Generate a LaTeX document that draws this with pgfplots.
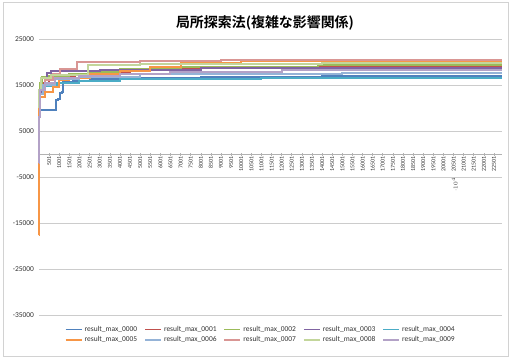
\documentclass[border=0pt]{standalone}
\usepackage{fontspec}
\setmainfont{Carlito}
\newfontfamily\cjk{Noto Sans CJK JP}[BoldFont={Noto Sans CJK JP Bold}]
\usepackage{pgfplots}
\pgfplotsset{compat=1.18}
\definecolor{s0}{HTML}{4F81BD}
\definecolor{s1}{HTML}{C0504D}
\definecolor{s2}{HTML}{9BBB59}
\definecolor{s3}{HTML}{8064A2}
\definecolor{s4}{HTML}{4BACC6}
\definecolor{s5}{HTML}{F79646}
\definecolor{s6}{HTML}{95B3D7}
\definecolor{s7}{HTML}{D99694}
\definecolor{s8}{HTML}{C3D69B}
\definecolor{s9}{HTML}{B3A2C7}
\begin{document}
\begin{tikzpicture}[x=1bp,y=1bp]
\draw[gray!35,line width=1bp] (3,6) rectangle (508,359);
\node[font=\cjk\bfseries\fontsize{14}{16}\selectfont] at (265,339) {局所探索法(複雑な影響関係)};
\begin{axis}[
  at={(39bp,47bp)}, anchor=south west,
  scale only axis, width=463bp, height=276bp,
  xmin=1, xmax=22900, ymin=-35000, ymax=25000,
  axis x line*=middle, axis y line*=left,
  x axis line style={draw=gray!60, line width=0.6bp},
  y axis line style={draw=none},
  ytick={-35000,-25000,-15000,-5000,5000,15000,25000},
  yticklabel style={font=\fontsize{7.5}{8}\selectfont, text=black!80},
  ytick style={draw=none},
  /pgf/number format/assume math mode=true,
  /pgf/number format/.cd, set thousands separator={}, /pgfplots/.cd,
  scaled y ticks=false,
  ymajorgrids, grid style={gray!40, line width=0.6bp},
  xtick={1,501,1001,1501,2001,2501,3001,3501,4001,4501,5001,5501,6001,6501,7001,7501,8001,8501,9001,9501,10001,10501,11001,11501,12001,12501,13001,13501,14001,14501,15001,15501,16001,16501,17001,17501,18001,18501,19001,19501,20001,20501,21001,21501,22001,22501},
  xticklabels={1,501,1001,1501,2001,2501,3001,3501,4001,4501,5001,5501,6001,6501,7001,7501,8001,8501,9001,9501,10001,10501,11001,11501,12001,12501,13001,13501,14001,14501,15001,15501,16001,16501,17001,17501,18001,18501,19001,19501,20001,20501,21001,21501,22001,22501},
  xticklabel style={rotate=90, anchor=east, font=\fontsize{6}{6}\selectfont, text=black!80, inner sep=1bp, text height=4bp, text depth=0bp},
  xtick style={draw=gray!60, line width=0.5bp},
  major tick length=3bp,
  tick align=center,
  ser/.style={line width=2bp, const plot, no marks},
  legend columns=5,
  legend style={at={(0.479,-0.025)}, anchor=north, draw=none, fill=none,
    font=\fontsize{7.5}{9}\selectfont, text=black!80,
    /tikz/every even column/.append style={column sep=5bp}},
  legend image code/.code={\draw[#1, line width=1.8bp] (0bp,0bp) -- (16bp,0bp);},
  legend cell align=left,
  clip=false,
]
\addplot[s0, ser] coordinates {(1,7000) (20,9300) (40,9600) (850,11700) (950,12000) (1050,13300) (1150,13500) (1200,15600) (1700,15900) (2500,16200) (4000,16500) (8000,16700) (14000,16900) (22900,16900)};
\addlegendentry{result\_max\_0000}
\addplot[s1, ser] coordinates {(1,8500) (15,11000) (60,13500) (200,15500) (500,16300) (900,16800) (1800,17300) (3000,17800) (4500,18400) (6000,18700) (9000,18950) (22900,18950)};
\addlegendentry{result\_max\_0001}
\addplot[s2, ser] coordinates {(1,9000) (10,12000) (50,15500) (150,16800) (500,17000) (1500,17400) (2500,17900) (4000,18400) (7000,18900) (13800,19400) (22900,19400)};
\addlegendentry{result\_max\_0002}
\addplot[s3, ser] coordinates {(1,8000) (20,13000) (100,16500) (400,17700) (600,18100) (3000,18300) (8000,18700) (22900,18700)};
\addlegendentry{result\_max\_0003}
\addplot[s4, ser] coordinates {(1,9000) (20,12500) (300,14800) (900,15400) (2000,15900) (4000,16200) (7000,16400) (11000,16500) (22900,16500)};
\addlegendentry{result\_max\_0004}
\addplot[s5, ser] coordinates {(1,-17600) (2,10000) (30,12500) (300,13500) (700,14500) (1000,16000) (1500,16500) (2500,17300) (4000,18000) (5500,19000) (7000,19800) (10000,20250) (22900,20250)};
\addlegendentry{result\_max\_0005}
\addplot[s6, ser] coordinates {(1,8500) (30,13000) (200,15000) (800,16300) (2000,16800) (5000,17300) (15000,17600) (22900,17600)};
\addlegendentry{result\_max\_0006}
\addplot[s7, ser] coordinates {(1,9500) (30,14000) (300,16000) (700,17500) (1050,18500) (1900,20000) (5000,20200) (9000,20400) (22900,20400)};
\addlegendentry{result\_max\_0007}
\addplot[s8, ser] coordinates {(1,10000) (20,14000) (100,16500) (600,17200) (2400,19300) (5000,19600) (14000,19800) (22900,19800)};
\addlegendentry{result\_max\_0008}
\addplot[s9, ser] coordinates {(1,-2000) (3,8000) (40,14000) (300,15500) (800,16500) (2000,17000) (4000,17500) (6500,17900) (12000,18300) (22900,18300)};
\addlegendentry{result\_max\_0009}
\end{axis}
\pgfresetboundingbox
\path (0,0) rectangle (511,362);
\end{tikzpicture}
\end{document}
